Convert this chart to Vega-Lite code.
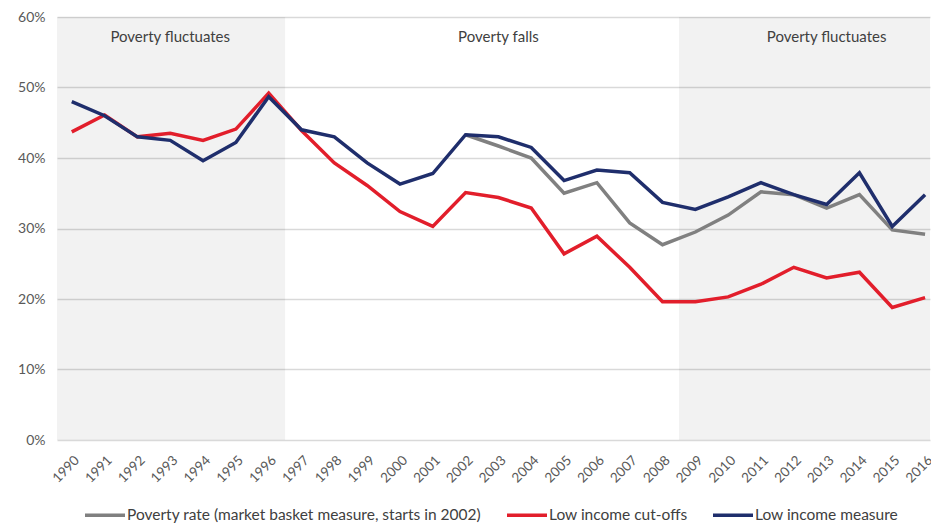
{
  "$schema": "https://vega.github.io/schema/vega-lite/v6.json",
  "width": 873,
  "height": 423,
  "autosize": {"type": "none"},
  "padding": {"left": 57, "top": 17, "right": 1, "bottom": 85},
  "config": {"view": {"stroke": null}, "font": "Lato", "background": "white"},
  "datasets": {
    "shades": [
      {"start": 1989.55, "end": 1996.5},
      {"start": 2008.5, "end": 2016.15}
    ],
    "notes": [
      {"year": 1993, "level": 0.572, "label": "Poverty fluctuates"},
      {"year": 2003, "level": 0.572, "label": "Poverty falls"},
      {"year": 2013, "level": 0.572, "label": "Poverty fluctuates"}
    ],
    "series": [
      {"year": 2002, "series": "Poverty rate (market basket measure, starts in 2002)", "value": 0.433},
      {"year": 2003, "series": "Poverty rate (market basket measure, starts in 2002)", "value": 0.417},
      {"year": 2004, "series": "Poverty rate (market basket measure, starts in 2002)", "value": 0.400},
      {"year": 2005, "series": "Poverty rate (market basket measure, starts in 2002)", "value": 0.350},
      {"year": 2006, "series": "Poverty rate (market basket measure, starts in 2002)", "value": 0.365},
      {"year": 2007, "series": "Poverty rate (market basket measure, starts in 2002)", "value": 0.308},
      {"year": 2008, "series": "Poverty rate (market basket measure, starts in 2002)", "value": 0.277},
      {"year": 2009, "series": "Poverty rate (market basket measure, starts in 2002)", "value": 0.295},
      {"year": 2010, "series": "Poverty rate (market basket measure, starts in 2002)", "value": 0.319},
      {"year": 2011, "series": "Poverty rate (market basket measure, starts in 2002)", "value": 0.352},
      {"year": 2012, "series": "Poverty rate (market basket measure, starts in 2002)", "value": 0.348},
      {"year": 2013, "series": "Poverty rate (market basket measure, starts in 2002)", "value": 0.329},
      {"year": 2014, "series": "Poverty rate (market basket measure, starts in 2002)", "value": 0.348},
      {"year": 2015, "series": "Poverty rate (market basket measure, starts in 2002)", "value": 0.298},
      {"year": 2016, "series": "Poverty rate (market basket measure, starts in 2002)", "value": 0.292},
      {"year": 1990, "series": "Low income cut-offs", "value": 0.437},
      {"year": 1991, "series": "Low income cut-offs", "value": 0.461},
      {"year": 1992, "series": "Low income cut-offs", "value": 0.430},
      {"year": 1993, "series": "Low income cut-offs", "value": 0.435},
      {"year": 1994, "series": "Low income cut-offs", "value": 0.425},
      {"year": 1995, "series": "Low income cut-offs", "value": 0.441},
      {"year": 1996, "series": "Low income cut-offs", "value": 0.492},
      {"year": 1997, "series": "Low income cut-offs", "value": 0.439},
      {"year": 1998, "series": "Low income cut-offs", "value": 0.393},
      {"year": 1999, "series": "Low income cut-offs", "value": 0.361},
      {"year": 2000, "series": "Low income cut-offs", "value": 0.324},
      {"year": 2001, "series": "Low income cut-offs", "value": 0.303},
      {"year": 2002, "series": "Low income cut-offs", "value": 0.351},
      {"year": 2003, "series": "Low income cut-offs", "value": 0.344},
      {"year": 2004, "series": "Low income cut-offs", "value": 0.329},
      {"year": 2005, "series": "Low income cut-offs", "value": 0.264},
      {"year": 2006, "series": "Low income cut-offs", "value": 0.289},
      {"year": 2007, "series": "Low income cut-offs", "value": 0.245},
      {"year": 2008, "series": "Low income cut-offs", "value": 0.196},
      {"year": 2009, "series": "Low income cut-offs", "value": 0.196},
      {"year": 2010, "series": "Low income cut-offs", "value": 0.203},
      {"year": 2011, "series": "Low income cut-offs", "value": 0.221},
      {"year": 2012, "series": "Low income cut-offs", "value": 0.245},
      {"year": 2013, "series": "Low income cut-offs", "value": 0.230},
      {"year": 2014, "series": "Low income cut-offs", "value": 0.238},
      {"year": 2015, "series": "Low income cut-offs", "value": 0.188},
      {"year": 2016, "series": "Low income cut-offs", "value": 0.202},
      {"year": 1990, "series": "Low income measure", "value": 0.480},
      {"year": 1991, "series": "Low income measure", "value": 0.460},
      {"year": 1992, "series": "Low income measure", "value": 0.430},
      {"year": 1993, "series": "Low income measure", "value": 0.425},
      {"year": 1994, "series": "Low income measure", "value": 0.396},
      {"year": 1995, "series": "Low income measure", "value": 0.422},
      {"year": 1996, "series": "Low income measure", "value": 0.487},
      {"year": 1997, "series": "Low income measure", "value": 0.440},
      {"year": 1998, "series": "Low income measure", "value": 0.430},
      {"year": 1999, "series": "Low income measure", "value": 0.393},
      {"year": 2000, "series": "Low income measure", "value": 0.363},
      {"year": 2001, "series": "Low income measure", "value": 0.378},
      {"year": 2002, "series": "Low income measure", "value": 0.433},
      {"year": 2003, "series": "Low income measure", "value": 0.430},
      {"year": 2004, "series": "Low income measure", "value": 0.415},
      {"year": 2005, "series": "Low income measure", "value": 0.368},
      {"year": 2006, "series": "Low income measure", "value": 0.383},
      {"year": 2007, "series": "Low income measure", "value": 0.379},
      {"year": 2008, "series": "Low income measure", "value": 0.337},
      {"year": 2009, "series": "Low income measure", "value": 0.327},
      {"year": 2010, "series": "Low income measure", "value": 0.345},
      {"year": 2011, "series": "Low income measure", "value": 0.365},
      {"year": 2012, "series": "Low income measure", "value": 0.348},
      {"year": 2013, "series": "Low income measure", "value": 0.334},
      {"year": 2014, "series": "Low income measure", "value": 0.379},
      {"year": 2015, "series": "Low income measure", "value": 0.303},
      {"year": 2016, "series": "Low income measure", "value": 0.348}
    ]
  },
  "layer": [
    {
      "data": {"name": "shades"},
      "mark": {"type": "rect", "color": "#000000", "opacity": 0.051},
      "encoding": {
        "x": {"field": "start", "type": "quantitative"},
        "x2": {"field": "end"},
        "y": {"datum": 0, "type": "quantitative"},
        "y2": {"datum": 0.6}
      }
    },
    {
      "data": {"name": "notes"},
      "mark": {"type": "text", "fontSize": 15, "color": "#404040", "baseline": "middle", "align": "center"},
      "encoding": {
        "x": {"field": "year", "type": "quantitative"},
        "y": {"field": "level", "type": "quantitative"},
        "text": {"field": "label"}
      }
    },
    {
      "data": {"name": "series"},
      "mark": {"type": "line", "strokeWidth": 3.5, "strokeJoin": "miter"},
      "encoding": {
        "x": {
          "field": "year",
          "type": "quantitative",
          "scale": {"domain": [1989.55, 2016.15], "nice": false, "zero": false},
          "axis": {
            "values": [1990,1991,1992,1993,1994,1995,1996,1997,1998,1999,2000,2001,2002,2003,2004,2005,2006,2007,2008,2009,2010,2011,2012,2013,2014,2015,2016],
            "tickCount": 40,
            "format": "d",
            "labelAngle": -45,
            "labelAlign": "right",
            "labelBaseline": "top",
            "labelFontSize": 13.5,
            "labelColor": "#595959",
            "labelPadding": 13,
            "labelDx": -6,
            "labelOverlap": false,
            "labelBound": false,
            "labelFlush": false,
            "ticks": false,
            "domain": false,
            "grid": false,
            "title": null
          }
        },
        "y": {
          "field": "value",
          "type": "quantitative",
          "scale": {"domain": [0, 0.6], "nice": false},
          "axis": {
            "values": [0, 0.1, 0.2, 0.3, 0.4, 0.5, 0.6],
            "format": ".0%",
            "labelFontSize": 14,
            "labelColor": "#595959",
            "labelPadding": 12,
            "ticks": false,
            "domain": false,
            "grid": true,
            "gridColor": "#D9D9D9",
            "gridWidth": 1.3,
            "title": null
          }
        },
        "color": {
          "field": "series",
          "type": "nominal",
          "sort": null,
          "scale": {
            "domain": ["Poverty rate (market basket measure, starts in 2002)", "Low income cut-offs", "Low income measure"],
            "range": ["#808080", "#E21E2B", "#1F2E6C"]
          },
          "legend": {
            "orient": "none",
            "legendX": 26,
            "legendY": 476,
            "direction": "horizontal",
            "title": null,
            "symbolType": "stroke",
            "symbolSize": 1600,
            "symbolStrokeWidth": 3.5,
            "labelFontSize": 15.5,
            "labelColor": "#404040",
            "labelOffset": 0,
            "columnPadding": 18,
            "labelLimit": 500
          }
        }
      }
    }
  ]
}
